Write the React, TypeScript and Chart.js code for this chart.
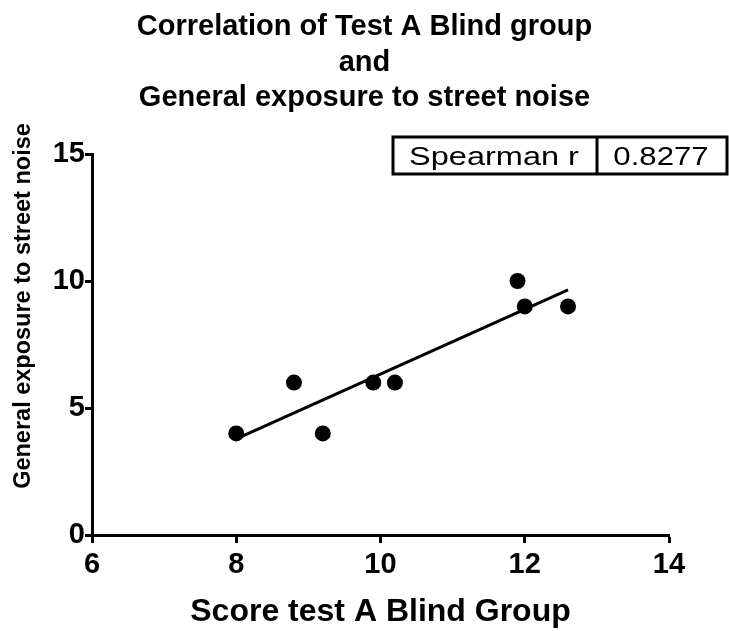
import { useEffect, useRef } from 'react';
import { Chart, registerables } from 'chart.js';

Chart.register(...registerables);

const FONT = '"Liberation Sans", Arial, Helvetica, sans-serif';

// Raw observations: score on test A (blind group) vs. general street-noise exposure
const scoreTestA = [8.0, 8.8, 9.2, 9.9, 10.2, 11.9, 12.0, 12.6];
const streetNoiseExposure = [4, 6, 4, 6, 6, 10, 9, 9];

const titleLines = ['Correlation of Test A Blind group', 'and', 'General exposure to street noise'];
const xAxisTitle = 'Score test A Blind Group';
const yAxisTitle = 'General exposure to street noise';

const statName = 'Spearman r';
const statValue = 0.8277;

const xLimits = [6, 14];
const xTickStep = 2;
const yLimits = [0, 15];
const yTickStep = 5;

// Least-squares line through the observations, drawn across the observed x range
function linearFit(xs: number[], ys: number[]) {
  const n = xs.length;
  const mx = xs.reduce((a, b) => a + b, 0) / n;
  const my = ys.reduce((a, b) => a + b, 0) / n;
  let sxy = 0;
  let sxx = 0;
  for (let i = 0; i < n; i++) {
    sxy += (xs[i] - mx) * (ys[i] - my);
    sxx += (xs[i] - mx) * (xs[i] - mx);
  }
  const slope = sxy / sxx;
  const intercept = my - slope * mx;
  const x0 = Math.min(...xs);
  const x1 = Math.max(...xs);
  return [
    { x: x0, y: intercept + slope * x0 },
    { x: x1, y: intercept + slope * x1 },
  ];
}

function drawText(
  ctx: CanvasRenderingContext2D,
  text: string,
  x: number,
  y: number,
  font: string,
  stretch = 1,
  angle = 0,
) {
  ctx.save();
  ctx.translate(x, y);
  if (angle) ctx.rotate(angle);
  ctx.scale(stretch, 1);
  ctx.font = font;
  ctx.fillStyle = '#000';
  ctx.textAlign = 'center';
  ctx.textBaseline = 'alphabetic';
  ctx.fillText(text, 0, 0);
  ctx.restore();
}

const figureText = {
  id: 'figureText',
  afterDraw(chart: Chart) {
    const ctx = chart.ctx;
    const area = chart.chartArea;
    const cx = (area.left + area.right) / 2 - 16;

    // Main title, three lines
    const titleFont = `bold 29px ${FONT}`;
    const baselines = [35, 70.5, 106];
    titleLines.forEach((line, i) => drawText(ctx, line, cx, baselines[i], titleFont));

    // Vertical axis title
    drawText(ctx, yAxisTitle, 30, 306, `bold 23.5px ${FONT}`, 1, -Math.PI / 2);

    // Statistic box
    const left = 393;
    const top = 137;
    const right = 727;
    const bottom = 174;
    const divider = 597;
    ctx.save();
    ctx.strokeStyle = '#000';
    ctx.lineWidth = 3;
    ctx.strokeRect(left, top, right - left, bottom - top);
    ctx.beginPath();
    ctx.moveTo(divider, top);
    ctx.lineTo(divider, bottom);
    ctx.stroke();
    ctx.restore();
    const cellFont = `26px ${FONT}`;
    drawText(ctx, statName, (left + divider) / 2 - 1, 165, cellFont, 1.25);
    drawText(ctx, statValue.toFixed(4), (divider + right) / 2 - 1, 165, cellFont, 1.2);
  },
};

export default function App() {
  const canvasRef = useRef<HTMLCanvasElement | null>(null);

  useEffect(() => {
    const canvas = canvasRef.current;
    if (!canvas) return;

    const points = scoreTestA.map((x, i) => ({ x, y: streetNoiseExposure[i] }));
    const fit = linearFit(scoreTestA, streetNoiseExposure);

    const tickFont = { family: FONT, size: 29, weight: 'bold' as const };

    const chart = new Chart(canvas, {
      type: 'scatter',
      data: {
        datasets: [
          {
            type: 'scatter',
            data: points,
            backgroundColor: '#000',
            borderColor: '#000',
            borderWidth: 0,
            pointRadius: 8,
            pointHoverRadius: 8,
            order: 0,
          },
          {
            type: 'line',
            data: fit,
            borderColor: '#000',
            borderWidth: 3,
            pointRadius: 0,
            pointHoverRadius: 0,
            fill: false,
            tension: 0,
            order: 1,
          } as any,
        ],
      },
      options: {
        animation: false,
        responsive: false,
        devicePixelRatio: 1,
        events: [],
        layout: { padding: { top: 154, right: 60, left: 0, bottom: 0 } },
        plugins: {
          legend: { display: false },
          tooltip: { enabled: false },
          title: { display: false },
        },
        scales: {
          x: {
            type: 'linear',
            min: xLimits[0],
            max: xLimits[1],
            afterFit: (scale: any) => {
              scale.height = 96;
            },
            ticks: { stepSize: xTickStep, color: '#000', font: tickFont, padding: 5 },
            grid: {
              drawOnChartArea: false,
              drawTicks: true,
              tickLength: 8,
              tickWidth: 3,
              color: '#000',
            },
            border: { display: true, color: '#000', width: 3 },
            title: {
              display: true,
              text: xAxisTitle,
              color: '#000',
              font: { family: FONT, size: 32, weight: 'bold' },
              padding: { top: 0, bottom: 0 },
            },
          },
          y: {
            type: 'linear',
            min: yLimits[0],
            max: yLimits[1],
            afterFit: (scale: any) => {
              scale.width = 92;
            },
            ticks: { stepSize: yTickStep, color: '#000', font: tickFont, padding: 0 },
            grid: {
              drawOnChartArea: false,
              drawTicks: true,
              tickLength: 7,
              tickWidth: 3,
              color: '#000',
            },
            border: { display: true, color: '#000', width: 3 },
          },
        },
      },
      plugins: [figureText],
    });

    return () => chart.destroy();
  }, []);

  return (
    <div style={{ position: 'absolute', left: 0, top: 0, width: 729, height: 631, background: '#fff' }}>
      <canvas ref={canvasRef} width={729} height={631} style={{ display: 'block' }} />
    </div>
  );
}
